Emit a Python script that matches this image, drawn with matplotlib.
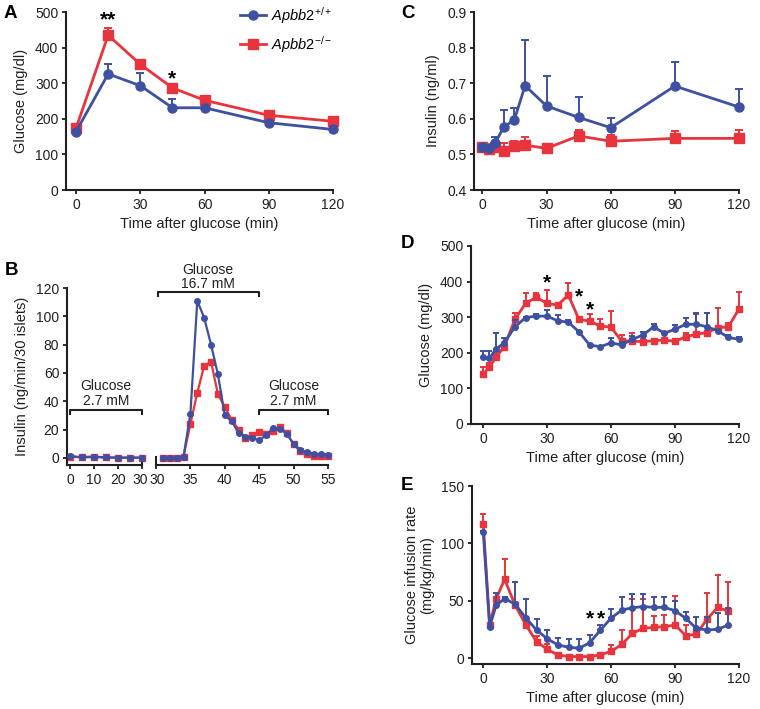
import matplotlib
matplotlib.use("Agg")
import matplotlib.pyplot as plt
import matplotlib.transforms as mtransforms
import numpy as np

plt.rcParams['font.family'] = ['Liberation Sans', 'DejaVu Sans']
plt.rcParams['mathtext.fontset'] = 'custom'
plt.rcParams['mathtext.rm'] = 'Liberation Sans'
plt.rcParams['mathtext.it'] = 'Liberation Sans:italic'
plt.rcParams['mathtext.bf'] = 'Liberation Sans:bold'

BLUE = '#3E50A2'
RED = '#E8343C'
INK = '#231F20'

# ---------------- data ----------------
labels = [r'$\mathit{Apbb2}^{+/+}$', r'$\mathit{Apbb2}^{-/-}$']

# Panel A: GTT
t_A = [0, 15, 30, 45, 60, 90, 120]
wt_A = [164, 326, 293, 231, 231, 189, 170]
wt_A_err = [4, 27, 37, 24, 4, 4, 5]
ko_A = [174, 435, 353, 287, 252, 210, 193]
ko_A_err = [5, 19, 12, 8, 6, 6, 8]

# Panel B: islet perifusion
t_B_left = [0, 5, 10, 15, 20, 25, 30]
wt_B_left = [1.2, 0.6, 1.0, 0.3, 0.2, 0.2, 0.2]
ko_B_left = [0.8, 0.4, 0.5, 0.3, 0.2, 0.2, 0.2]
t_B_right = [31, 32, 33, 34, 35, 36, 37, 38, 39, 40, 41, 42, 43, 44, 45,
             46, 47, 48, 49, 50, 51, 52, 53, 54, 55]
wt_B_right = [0, 0, 0, 1, 31, 111, 99, 80, 59, 30, 26, 17.6, 15, 14, 12.5,
              16, 21, 20.5, 17, 10, 5.5, 4, 3, 2.5, 2]
ko_B_right = [0, 0, 0, 1, 24, 46, 65, 68, 45, 36, 27, 20, 14, 16, 18.5,
              17, 19, 22, 17.5, 9.5, 4.7, 2.5, 1.7, 1.7, 1.2]

# Panel C: plasma insulin
t_C = [0, 3, 6, 10, 15, 20, 30, 45, 60, 90, 120]
wt_C = [0.521, 0.518, 0.533, 0.576, 0.598, 0.693, 0.636, 0.604, 0.575, 0.692, 0.633]
wt_C_err = [0.004, 0.004, 0.015, 0.05, 0.033, 0.129, 0.084, 0.058, 0.027, 0.068, 0.05]
ko_C = [0.521, 0.514, 0.521, 0.509, 0.524, 0.526, 0.517, 0.552, 0.537, 0.545, 0.545]
ko_C_err = [0.006, 0.004, 0.016, 0.024, 0.014, 0.024, 0.003, 0.016, 0.017, 0.02, 0.023]

# Panel D: clamp glucose
t_D = [0, 3, 6, 10, 15, 20, 25, 30, 35, 40, 45, 50, 55, 60, 65, 70, 75, 80,
       85, 90, 95, 100, 105, 110, 115, 120]
wt_D = [187, 184, 210, 228, 273, 299, 303, 303, 290, 286, 259, 222, 217, 228,
        222, 238, 250, 273, 255, 266, 280, 280, 273, 262, 243, 238]
wt_D_err = [18, 21, 47, 13, 19, 2, 7, 17, 16, 6, 2, 2, 2, 13, 9, 8, 9, 9, 3,
            11, 17, 31, 38, 3, 8, 7]
ko_D = [140, 159, 187, 217, 294, 339, 356, 339, 334, 362, 294, 289, 275, 272,
        233, 233, 231, 234, 236, 232, 245, 252, 257, 270, 273, 323]
ko_D_err = [21, 13, 11, 8, 17, 29, 13, 36, 4, 35, 4, 19, 19, 46, 17, 22, 8,
            4, 4, 4, 10, 56, 56, 55, 11, 49]

# Panel E: glucose infusion rate
t_E = [0, 3, 6, 10, 15, 20, 25, 30, 35, 40, 45, 50, 55, 60, 65, 70, 75, 80,
       85, 90, 95, 100, 105, 110, 115]
wt_E = [109.6, 27.5, 46, 52, 47, 35, 24.6, 17, 11.6, 9.6, 8.7, 13.6, 24.6, 35,
        42, 44, 45, 44.3, 44.3, 41.4, 34.8, 26, 24.6, 25.2, 29]
wt_E_err = [1, 1, 10.5, 1, 19, 17, 9.4, 7.6, 6.4, 6.9, 7.8, 6.4, 4.4, 8, 11,
            12, 11, 9.3, 9.3, 8.6, 5.2, 10, 11, 13.8, 14.5]
ko_E = [116.5, 29, 51.6, 68.7, 46, 29, 14.5, 7.8, 2.9, 1.5, 1.5, 1.5, 3, 6, 12,
        21.7, 26, 27, 27.5, 29, 19.7, 21, 34, 44.3, 41]
ko_E_err = [9.5, 1, 2, 17.3, 3, 6, 4.5, 4.2, 1.1, 0.5, 0.5, 0.5, 0.5, 5.6, 13,
            29.9, 25.6, 10, 10, 25, 9.3, 3.6, 23, 28.2, 25]

# ---------------- figure ----------------
W, H = 760, 709
fig = plt.figure(figsize=(W / 100, H / 100), dpi=100)


def px_axes(l, t, r, b):
    return fig.add_axes([l / W, 1 - b / H, (r - l) / W, (b - t) / H])


TICK_FS = 10
LAB_FS = 10.5


def style(ax):
    for s in ['top', 'right']:
        ax.spines[s].set_visible(False)
    for s in ['left', 'bottom']:
        ax.spines[s].set_linewidth(1.5)
        ax.spines[s].set_color(INK)
    ax.tick_params(direction='out', length=3, width=1.3, colors=INK,
                   labelsize=TICK_FS, pad=2.5)


def series(ax, x, y, err, color, marker, ms, lw, cap, zorder):
    y = np.asarray(y, float)
    if err is not None:
        e = np.asarray(err, float)
        ax.errorbar(x, y, yerr=[np.zeros_like(e), e], fmt='none', ecolor=color,
                    elinewidth=1.4, capsize=cap, capthick=1.4, zorder=zorder,
                    clip_on=False)
    ax.plot(x, y, color=color, marker=marker, ms=ms, lw=lw, zorder=zorder + 0.5,
            clip_on=False, mec=color, mfc=color)


def star(ax, x, y, s):
    ax.text(x, y, s, ha='center', va='center', fontsize=15, fontweight='bold',
            color='black')


# Panel A
axA = px_axes(66, 12, 333, 190)
style(axA)
series(axA, t_A, ko_A, ko_A_err, RED, 's', 6.5, 2.0, 3, 2)
series(axA, t_A, wt_A, wt_A_err, BLUE, 'o', 6.5, 2.0, 3, 3)
axA.set_xlim(-4.7, 120)
axA.set_ylim(0, 500)
axA.set_xticks([0, 30, 60, 90, 120])
axA.set_yticks([0, 100, 200, 300, 400, 500])
axA.set_xlabel('Time after glucose (min)', fontsize=LAB_FS, color=INK, labelpad=4)
axA.set_ylabel('Glucose (mg/dl)', fontsize=LAB_FS, color=INK, labelpad=5)
star(axA, 15, 478, '**')
star(axA, 45, 313, '*')
hb, = axA.plot([], [], color=BLUE, marker='o', ms=6.5, lw=2.0)
hr, = axA.plot([], [], color=RED, marker='s', ms=6.5, lw=2.0)
axA.legend([hb, hr], labels, loc='upper left', frameon=False,
           bbox_to_anchor=(240 / W, 1 - 5 / H), bbox_transform=fig.transFigure,
           borderpad=0, borderaxespad=0, handlelength=1.8, handletextpad=0.3,
           labelspacing=0.55, fontsize=LAB_FS)

# Panel B (broken axis)
axB1 = px_axes(67, 288, 142, 465)
axB2 = px_axes(156, 288, 328, 465)
style(axB1)
style(axB2)
axB2.spines['left'].set_visible(False)
axB2.tick_params(axis='y', left=False, labelleft=False)
for ax, xs, wy, ky in [(axB1, t_B_left, wt_B_left, ko_B_left),
                       (axB2, t_B_right, wt_B_right, ko_B_right)]:
    ax.plot(xs, ky, color=RED, marker='s', ms=4, lw=1.6, zorder=2, clip_on=False)
    ax.plot(xs, wy, color=BLUE, marker='o', ms=4, lw=1.6, zorder=3, clip_on=False)
    ax.set_ylim(-5, 120)
axB1.set_xlim(-1.25, 30)
axB2.set_xlim(30, 55)
axB1.set_xticks([0, 10, 20, 30])
axB2.set_xticks([30, 35, 40, 45, 50, 55])
axB1.set_yticks([0, 20, 40, 60, 80, 100, 120])
axB1.set_ylabel('Insulin (ng/min/30 islets)', fontsize=LAB_FS, color=INK, labelpad=5)
# nudge the two adjoining "30" labels apart slightly
lab_left = axB1.get_xticklabels()[-1]
lab_left.set_transform(lab_left.get_transform() +
                       mtransforms.ScaledTranslation(-1.5 / 100, 0, fig.dpi_scale_trans))
lab_right = axB2.get_xticklabels()[0]
lab_right.set_transform(lab_right.get_transform() +
                        mtransforms.ScaledTranslation(1.0 / 100, 0, fig.dpi_scale_trans))
# break marks
axB1.plot([30, 30], [-5, 1], color=INK, lw=1.5, clip_on=False)
axB2.plot([30, 30], [-5, 1], color=INK, lw=1.5, clip_on=False)


def bracket(ax, x0, x1, y, dy, l1, l2, ty1, ty2):
    ax.plot([x0, x0, x1, x1], [y - dy, y, y, y - dy], color=INK, lw=1.5,
            clip_on=False)
    xc = (x0 + x1) / 2
    ax.text(xc, ty1, l1, ha='center', va='center', fontsize=10, color=INK)
    ax.text(xc, ty2, l2, ha='center', va='center', fontsize=10, color=INK)


bracket(axB1, 0, 30, 34, 3, 'Glucose', '2.7 mM', 50.5, 40)
bracket(axB2, 45, 55, 34, 3, 'Glucose', '2.7 mM', 50.5, 40)
bracket(axB2, 30.3, 44.9, 117, 3, 'Glucose', '16.7 mM', 133, 123)

# Panel C
axC = px_axes(474, 12, 739, 190)
style(axC)
series(axC, t_C, ko_C, ko_C_err, RED, 's', 6.5, 2.0, 3, 2)
series(axC, t_C, wt_C, wt_C_err, BLUE, 'o', 6.5, 2.0, 3, 3)
axC.set_xlim(-3.9, 120)
axC.set_ylim(0.4, 0.9)
axC.set_xticks([0, 30, 60, 90, 120])
axC.set_yticks([0.4, 0.5, 0.6, 0.7, 0.8, 0.9])
axC.set_yticklabels(['0.4', '0.5', '0.6', '0.7', '0.8', '0.9'])
axC.set_xlabel('Time after glucose (min)', fontsize=LAB_FS, color=INK, labelpad=4)
axC.set_ylabel('Insulin (ng/ml)', fontsize=LAB_FS, color=INK, labelpad=5)

# Panel D
axD = px_axes(471, 246, 739, 424)
style(axD)
series(axD, t_D, ko_D, ko_D_err, RED, 's', 4, 2.0, 2.5, 2)
series(axD, t_D, wt_D, wt_D_err, BLUE, 'o', 4, 2.0, 2.5, 3)
axD.set_xlim(-5.6, 120)
axD.set_ylim(0, 500)
axD.set_xticks([0, 30, 60, 90, 120])
axD.set_yticks([0, 100, 200, 300, 400, 500])
axD.set_xlabel('Time after glucose (min)', fontsize=LAB_FS, color=INK, labelpad=4)
axD.set_ylabel('Glucose (mg/dl)', fontsize=LAB_FS, color=INK, labelpad=5)
star(axD, 30, 396, '*')
star(axD, 45, 356, '*')
star(axD, 50, 321, '*')

# Panel E
axE = px_axes(472, 486, 739, 664)
style(axE)
series(axE, t_E, ko_E, ko_E_err, RED, 's', 4, 2.0, 2.5, 2)
series(axE, t_E, wt_E, wt_E_err, BLUE, 'o', 4, 2.0, 2.5, 3)
axE.set_xlim(-5.3, 120)
axE.set_ylim(-5, 150)
axE.set_xticks([0, 30, 60, 90, 120])
axE.set_yticks([0, 50, 100, 150])
axE.set_xlabel('Time after glucose (min)', fontsize=LAB_FS, color=INK, labelpad=4)
axE.set_ylabel('Glucose infusion rate\n(mg/kg/min)', fontsize=LAB_FS, color=INK,
               labelpad=5, linespacing=1.1)
star(axE, 50, 34, '*')
star(axE, 55.2, 34, '*')

# Panel letters
for txt, x, y in [('A', 4, 14), ('B', 5, 270), ('C', 401, 14), ('D', 401, 244),
                  ('E', 401, 486)]:
    fig.text(x / W, 1 - y / H, txt, fontsize=13.5, fontweight='bold',
             ha='left', va='center', color='black')

fig.savefig('out.png', dpi=100)
